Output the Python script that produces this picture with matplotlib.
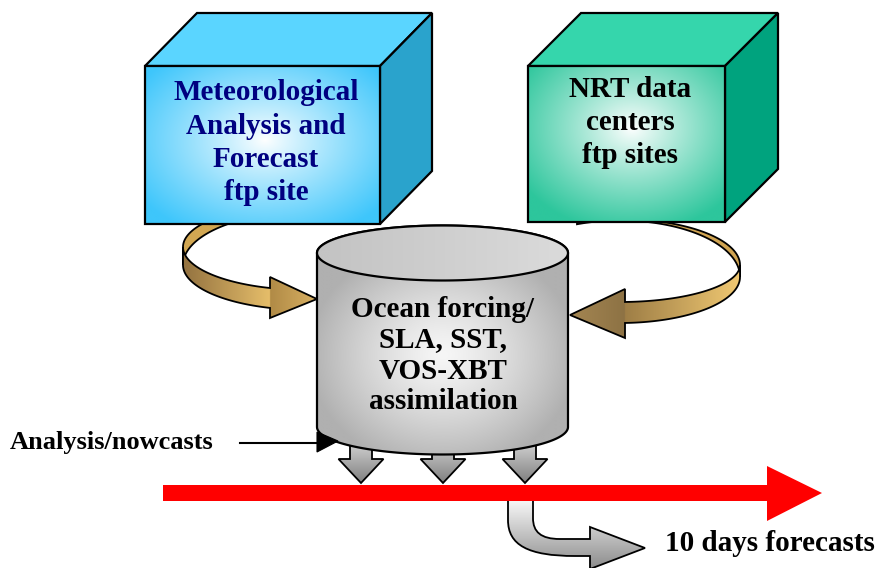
import numpy as np
import matplotlib
matplotlib.use("Agg")
import matplotlib.pyplot as plt
from matplotlib.patches import Polygon, PathPatch
from matplotlib.path import Path
from matplotlib.colors import to_rgb

# ---- text content ----
met_lines = ["Meteorological", "Analysis and", "Forecast", "ftp site"]
nrt_lines = ["NRT data", "centers", "ftp sites"]
ocean_lines = ["Ocean forcing/", "SLA, SST,", "VOS-XBT", "assimilation"]
analysis_label = "Analysis/nowcasts"
forecast_label = "10 days forecasts"
n_down_arrows = 3

FONT = dict(family=["Liberation Serif", "DejaVu Serif"], weight="bold")

fig = plt.figure(figsize=(8.79, 5.68), dpi=100)
ax = fig.add_axes([0, 0, 1, 1])
ax.set_xlim(0, 879)
ax.set_ylim(568, 0)
ax.axis("off")


def lerp(c1, c2, t):
    c1 = np.array(to_rgb(c1)); c2 = np.array(to_rgb(c2))
    t = np.asarray(t)[..., None]
    return c1 * (1 - t) + c2 * t


def grad_patch(patch, bbox, func, z, lw=1.3, ec="black"):
    x0, x1, y0, y1 = bbox
    n = 300
    X, Y = np.meshgrid(np.linspace(x0, x1, n), np.linspace(y0, y1, n))
    img = np.clip(func(X, Y), 0, 1)
    patch.set_facecolor("none")
    patch.set_edgecolor(ec)
    patch.set_linewidth(lw)
    patch.set_zorder(z + 0.01)
    ax.add_patch(patch)
    im = ax.imshow(img, extent=(x0, x1, y1, y0), origin="upper", zorder=z,
                   interpolation="bilinear", aspect="auto")
    im.set_clip_path(patch)


def ribbon(cx, cy, rx, ry_f, ry_b, hs, hf, hb, th0, th1, n=120):
    th = np.radians(np.linspace(th0, th1, n))
    s = np.sin(th)
    ry = np.where(s < 0, ry_b, ry_f)
    x = cx + rx * np.cos(th)
    y = cy + ry * s
    h = hs + (hf - hs) * np.clip(s, 0, None) + (hb - hs) * np.clip(-s, 0, None)
    return x, y, y + h


def band_poly(x, y, yb, mid=None):
    pts = list(zip(x, y))
    if mid:
        pts += mid
    pts += list(zip(x[::-1], yb[::-1]))
    return pts


# ---- left gold curved arrow ----
cx, cy, rx, ry = 305, 247, 122, 42.8
x, y, yb = ribbon(cx, cy, rx, ry, ry, 18, 20, 8, 290, 180)
ax.add_patch(Polygon(band_poly(x, y, yb), closed=True, fc="#d2a752", ec="black", lw=1.3, zorder=1))
th_end = np.degrees(np.arccos((270 - cx) / rx))
x, y, yb = ribbon(cx, cy, rx, ry, ry, 18, 20, 8, 180, th_end)
head = [(270, 277), (317, 299), (270, 318)]
p = Polygon(band_poly(x, y, yb, head), closed=True)


def gold_left(X, Y):
    t1 = np.clip((X - 183) / 87.0, 0, 1)
    c = lerp("#937240", "#e6be6a", t1)
    t2 = np.clip((X - 270) / 47.0, 0, 1)
    ch = lerp("#b08a46", "#d8b062", t2)
    return np.where((X > 270)[..., None], ch, c)


grad_patch(p, (180, 320, 240, 320), gold_left, 1.1)

# ---- right gold curved arrow ----
cx, cy, rx = 620, 265, 120
x, y, yb = ribbon(cx, cy, rx, 37, 46, 12, 21, 1.5, -111, 0)
ax.add_patch(Polygon(band_poly(x, y, yb), closed=True, fc="#d0a452", ec="black", lw=1.3, zorder=1))
th_end = np.degrees(np.arccos((625 - cx) / rx))
x, y, yb = ribbon(cx, cy, rx, 37, 46, 12, 21, 1.5, 0, th_end)
head = [(625, 289), (570, 315), (625, 338)]
p = Polygon(band_poly(x, y, yb, head), closed=True)


def gold_right(X, Y):
    t1 = np.clip((740 - X) / 115.0, 0, 1)
    c = lerp("#f0c872", "#9e7e46", t1)
    t2 = np.clip((625 - X) / 55.0, 0, 1)
    ch = lerp("#8d7244", "#a48652", t2)
    return np.where((X < 625)[..., None], ch, c)


grad_patch(p, (565, 745, 255, 340), gold_right, 1.1)

# ---- grey down arrows (under cylinder) ----
for cxa in np.linspace(361, 525, n_down_arrows):
    pts = [(cxa - 11, 430), (cxa - 11, 459), (cxa - 22.5, 459), (cxa, 483),
           (cxa + 22.5, 459), (cxa + 11, 459), (cxa + 11, 430)]
    p = Polygon(pts, closed=True)
    grad_patch(p, (cxa - 24, cxa + 24, 428, 485),
               lambda X, Y: lerp("#d6d6d6", "#808080", np.clip((Y - 440) / 43.0, 0, 1)), 1.5)

# ---- forecast bent arrow (under red arrow) ----
verts = [(508, 495), (508, 520), (508, 545), (528, 556), (575, 556), (590, 556),
         (590, 569), (645, 548), (590, 527), (590, 539), (560, 539),
         (541, 539), (533, 532), (533, 518), (533, 495), (508, 495)]
codes = [Path.MOVETO, Path.LINETO, Path.CURVE4, Path.CURVE4, Path.CURVE4, Path.LINETO,
         Path.LINETO, Path.LINETO, Path.LINETO, Path.LINETO, Path.LINETO,
         Path.CURVE4, Path.CURVE4, Path.CURVE4, Path.LINETO, Path.CLOSEPOLY]
p = PathPatch(Path(verts, codes))
grad_patch(p, (505, 648, 493, 570),
           lambda X, Y: lerp("#f8f8f8", "#8a8a8a", np.clip((Y - 500) / 70.0, 0, 1)), 1.6)

# ---- red time arrow ----
red = [(163, 485), (767, 485), (767, 466), (822, 493), (767, 521), (767, 501), (163, 501)]
ax.add_patch(Polygon(red, closed=True, fc="#ff0000", ec="none", zorder=2.5))

# ---- cylinder ----
ccx, rxc, ryc, ytop, ybot = 442.5, 125.5, 27.5, 253, 427
bot_arc = [(ccx + rxc * np.cos(t), ybot + ryc * np.sin(t)) for t in np.radians(np.linspace(180, 0, 100))]
side = [(ccx - rxc, ytop), (ccx - rxc, ybot)] + bot_arc + [(ccx + rxc, ytop)] + \
       [(ccx + rxc * np.cos(t), ytop + ryc * np.sin(t)) for t in np.radians(np.linspace(360, 180, 100))]
p = Polygon(side, closed=True)


def cyl_side(X, Y):
    r = np.sqrt(((X - 443) / 135.0) ** 2 + ((Y - 355) / 115.0) ** 2)
    return lerp("#f6f6f6", "#b0b0b0", np.clip(r, 0, 1) ** 1.3)


grad_patch(p, (310, 575, 220, 460), cyl_side, 2, lw=1.6)
top_full = [(ccx + rxc * np.cos(t), ytop + ryc * np.sin(t)) for t in np.radians(np.linspace(0, 360, 200))]
p = Polygon(top_full, closed=True)
grad_patch(p, (315, 570, 224, 282),
           lambda X, Y: lerp("#c4c4c4", "#dadada", np.clip((X - 330) / 230.0, 0, 1)), 2.05, lw=1.6)

# ---- cubes ----
def cube(fx0, fx1, fy0, fy1, dx, dy, top_c, side_c, edge_c, centre, radii, z=3):
    ax.add_patch(Polygon([(fx0, fy0), (fx0 + dx, fy0 - dy), (fx1 + dx, fy0 - dy), (fx1, fy0)],
                         closed=True, fc=top_c, ec="black", lw=1.6, zorder=z))
    ax.add_patch(Polygon([(fx1, fy0), (fx1 + dx, fy0 - dy), (fx1 + dx, fy1 - dy), (fx1, fy1)],
                         closed=True, fc=side_c, ec="black", lw=1.6, zorder=z))
    p = Polygon([(fx0, fy0), (fx1, fy0), (fx1, fy1), (fx0, fy1)], closed=True)

    def f(X, Y):
        r = np.sqrt(((X - centre[0]) / radii[0]) ** 2 + ((Y - centre[1]) / radii[1]) ** 2)
        return lerp("#ffffff", edge_c, np.clip(r, 0, 1) ** 0.9)

    grad_patch(p, (fx0, fx1, fy0, fy1), f, z, lw=1.6)


cube(145, 380, 66, 224, 52, 53, "#5ad5ff", "#2aa3cc", "#3ec6fb", (265, 140), (150, 105))
cube(528, 725, 66, 222, 53, 53, "#35d6ac", "#00a37e", "#2dc69c", (632, 128), (130, 105))

# ---- texts ----
for s, yb_ in zip(met_lines, [100, 133.5, 167, 200.5]):
    ax.text(266, yb_, s, ha="center", va="baseline", fontsize=21, color="#000080", zorder=6, **FONT)
for s, yb_ in zip(nrt_lines, [97, 130, 163]):
    ax.text(630, yb_, s, ha="center", va="baseline", fontsize=21, color="black", zorder=6, **FONT)
for s, yb_ in zip(ocean_lines, [317, 347.5, 379, 409]):
    ax.text(443, yb_, s, ha="center", va="baseline", fontsize=21, color="black", zorder=6, **FONT)
ax.text(10, 449, analysis_label, ha="left", va="baseline", fontsize=19, color="black", zorder=6, **FONT)
ax.text(665, 551, forecast_label, ha="left", va="baseline", fontsize=21, color="black", zorder=6, **FONT)

# analysis pointer
ax.plot([240, 320], [443, 443], color="black", lw=1.5, zorder=4)
ax.add_patch(Polygon([(317, 432), (317, 452), (338, 441)], closed=True, fc="black", ec="black",
                     lw=0.8, zorder=4))

fig.savefig("out.png", dpi=100)
